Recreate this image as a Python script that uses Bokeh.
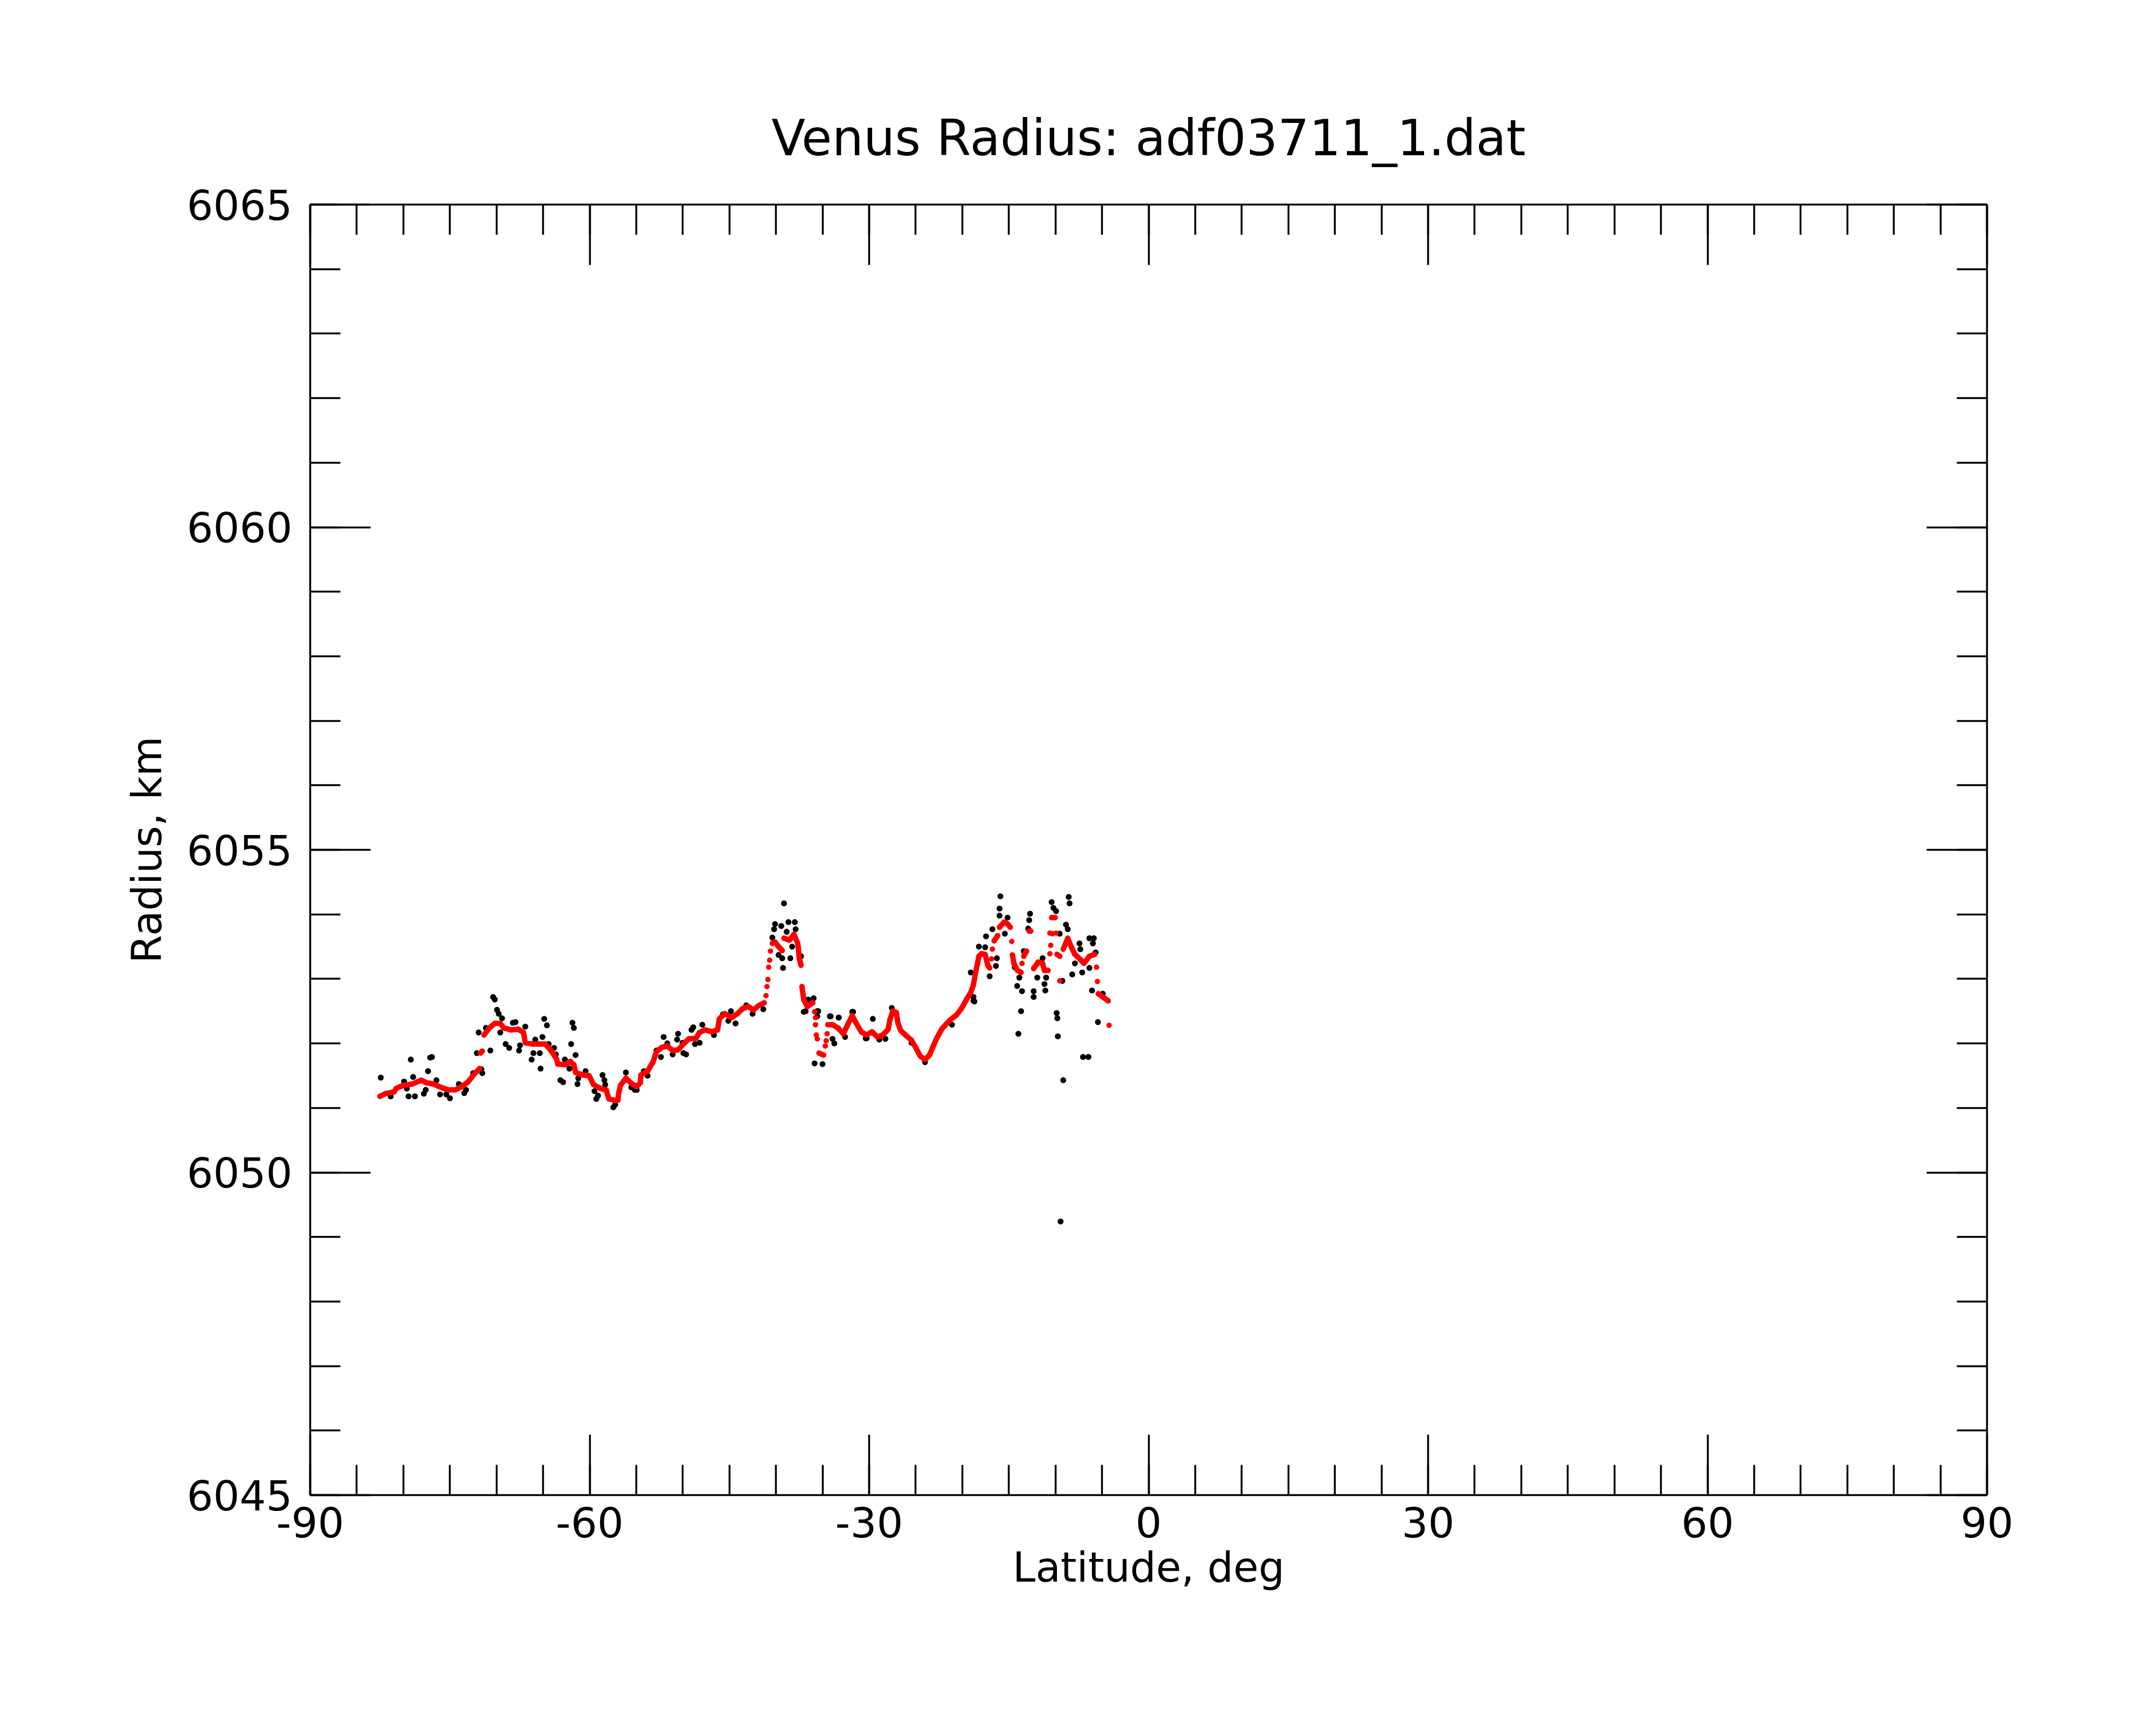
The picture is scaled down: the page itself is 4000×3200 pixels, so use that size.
import numpy as np
from bokeh.plotting import figure
from bokeh.models import Range1d, LinearAxis, SingleIntervalTicker, CustomJSTickFormatter
from bokeh.embed import file_html
from bokeh.resources import INLINE

NaN = float("nan")

# raw radius samples (black)
raw_lat = [
    -82.42, -81.36, -79.92, -79.63, -79.44, -79.20, -78.95, -78.76, -77.80, -77.60,
    -77.35, -77.12, -76.93, -76.45, -76.06, -75.39, -75.00, -74.04, -73.46, -73.27,
    -72.50, -72.11, -71.63, -71.53, -71.92, -71.14, -70.66, -70.37, -70.18, -69.95,
    -69.76, -69.41, -69.60, -69.02, -68.64, -68.25, -67.96, -67.58, -67.48, -66.91,
    -66.23, -66.04, -65.84, -65.36, -65.27, -65.07, -64.88, -64.59, -64.40, -63.82,
    -63.63, -63.14, -62.85, -62.66, -62.18, -61.99, -61.85, -61.70, -61.51, -61.31,
    -61.22, -60.44, -59.48, -59.29, -59.10, -58.62, -58.42, -58.33, -57.46, -57.26,
    -56.11, -55.53, -55.15,
    -54.95, -54.18, -53.79, -52.83, -52.35, -52.06, -51.67, -51.09, -50.51, -50.61,
    -50.03, -49.94, -49.65, -49.07, -48.88, -48.69, -48.20, -47.91, -46.66, -45.69,
    -45.11, -44.83, -44.34, -43.19, -42.51, -41.36,
    -39.14, -40.10, -39.43, -40.20, -38.66, -37.98, -37.89, -38.85, -40.39, -38.27,
    -39.72, -39.33, -38.46, -37.31, -39.24,
    -37.02, -36.54, -35.96, -35.57, -35.57, -35.86, -35.00, -36.82, -35.47,
    -34.22, -34.13, -33.93, -33.74, -33.27, -33.26, -32.58, -31.72, -31.81, -30.37,
    -29.60, -28.92, -28.25, -30.27, -27.57, -25.45, -24.00, -21.11,
    -19.09, -18.80, -18.70, -18.80, -18.22, -17.55, -17.45, -17.06, -16.77, -16.29,
    -16.39, -15.91, -16.00, -16.00, -15.14, -15.43, -14.36, -13.88, -14.11, -13.59,
    -13.69, -13.98, -12.73, -12.82, -12.92, -13.40, -11.38, -11.95, -12.34, -12.34,
    -11.18, -11.09, -11.00, -10.41, -10.22, -9.93, -9.54, -9.26, -9.87, -9.80,
    -9.74, -9.16, -8.58, -8.49, -8.87, -8.68, -8.20, -7.91, -7.42, -7.33,
    -7.13, -6.36, -6.36, -5.88, -5.98, -5.69, -6.07, -5.44, -7.04, -6.46,
    -4.92, -9.45,
]
raw_radius = [
    6051.47, 6051.18, 6051.41, 6051.30, 6051.18, 6051.75, 6051.48, 6051.18, 6051.22, 6051.28,
    6051.57, 6051.78, 6051.79, 6051.43, 6051.21, 6051.21, 6051.15, 6051.37, 6051.23, 6051.28,
    6051.54, 6051.85, 6051.60, 6051.54, 6052.17, 6052.24, 6051.89, 6052.72, 6052.68, 6052.52,
    6052.46, 6052.39, 6052.17, 6051.99, 6051.93, 6052.32, 6052.33, 6051.89, 6051.97, 6052.26,
    6051.75, 6051.85, 6052.06, 6051.85, 6051.61, 6052.10, 6052.38, 6052.28, 6051.99, 6051.93,
    6051.83, 6051.43, 6051.40, 6051.75, 6051.61, 6051.99, 6052.32, 6052.24, 6051.82, 6051.37,
    6051.46, 6051.57, 6051.26, 6051.14, 6051.19, 6051.51, 6051.43, 6051.36, 6051.01, 6051.05,
    6051.55, 6051.32, 6051.28,
    6051.28, 6051.57, 6051.50, 6051.89, 6051.79, 6052.10, 6052.00, 6051.83, 6052.15, 6052.06,
    6052.01, 6051.85, 6051.83, 6052.21, 6052.25, 6051.99, 6052.01, 6052.29, 6052.13, 6052.45,
    6052.35, 6052.50, 6052.31, 6052.59, 6052.46, 6052.53,
    6054.17, 6053.85, 6053.82, 6053.77, 6053.88, 6053.88, 6053.77, 6053.73, 6053.64, 6053.50,
    6053.37, 6053.32, 6053.32, 6053.35, 6053.17,
    6052.49, 6052.68, 6052.70, 6052.50, 6052.42, 6051.69, 6051.68, 6052.50, 6052.50,
    6052.42, 6052.42, 6052.07, 6052.00, 6052.40, 6052.40, 6052.10, 6052.49, 6052.49, 6052.08,
    6052.38, 6052.06, 6052.07, 6052.08, 6052.55, 6052.01, 6051.71, 6052.29,
    6053.10, 6052.66, 6052.65, 6052.72, 6053.50, 6053.49, 6053.66, 6053.04, 6053.77, 6053.32,
    6053.20, 6054.28, 6054.09, 6053.98, 6053.95, 6053.70, 6053.18, 6053.02, 6052.89, 6052.81,
    6052.50, 6052.15, 6054.01, 6053.91, 6053.78, 6053.43, 6053.32, 6053.02, 6052.81, 6052.72,
    6052.92, 6052.82, 6053.02, 6054.19, 6054.10, 6054.05, 6053.70, 6052.97, 6052.47, 6052.39,
    6052.11, 6051.43, 6054.27, 6054.17, 6053.84, 6053.77, 6053.07, 6053.24, 6053.55, 6053.46,
    6053.10, 6053.17, 6053.63, 6053.63, 6053.55, 6053.41, 6052.82, 6052.33, 6051.79, 6051.79,
    6052.77, 6049.24,
]

# smoothed radius (red); NaN separates runs
fit_lat = [
    -82.52, -81.94, -80.98, -80.79, -80.01, -79.05, -78.09, -77.51, -76.74, -76.16,
    -75.19, -74.42, -73.84, -73.07, -72.30, -71.82, NaN,
    -71.72, -71.53, NaN,
    -71.34, -70.76, -70.18, -69.60, -69.22, -68.45, -67.68, -67.10, -66.91, -66.13,
    -65.36, -64.78, -64.20, -63.82, -63.53, -63.43, -62.66, -62.08, -61.70, -61.51,
    -60.73, -60.06, -59.58, -58.81, -58.23, -57.94, -57.36, -56.97, -56.88, -56.69,
    -56.11, -55.53, -54.95, -54.56, -54.50, -53.79, -53.21, -52.83, -52.25, -51.67,
    -51.09, -50.51, -49.94, -49.36, -48.59, -48.20, -47.62, -46.85, -46.27, -46.08,
    -45.50, -44.73, -44.15, -43.57, -42.99, -42.41, -41.83, -41.26, NaN,
    -41.07, NaN, -40.97, NaN, -40.87, NaN, -40.78, NaN, -40.68, NaN, -40.59, NaN,
    -40.39, -40.10, -39.72, -39.33, NaN,
    -39.14, -38.56, -38.08, -37.69, -37.60, -37.50, -37.31, NaN,
    -37.21, -37.02, -36.63, -36.05, NaN,
    -35.86, NaN, -35.76, NaN, -35.76, NaN, -35.67, NaN, -35.57, NaN,
    -35.38, -34.90, NaN, -34.71, NaN, -34.61, NaN, -34.51, NaN,
    -34.42, -33.93, -33.35, -32.77, -32.20, -31.81, -31.42, -30.85, -30.27, -29.69,
    -29.11, -28.54, -27.96, -27.76, -27.47, -27.09, -26.90, -26.61, -26.03, -25.45,
    -25.06, -24.49, -24.00, -23.52, -23.14, -22.75, -22.17, -21.40, -20.63, -20.05,
    -19.47, -19.09, -18.80, -18.61, -18.41, -18.22, -17.93, -17.55, -17.26, -17.06, NaN,
    -16.87, NaN, -16.77, NaN,
    -16.58, -16.20, NaN,
    -16.00, -15.52, -15.14, -14.85, NaN,
    -14.69, NaN,
    -14.62, -14.46, -14.08, -13.69, NaN,
    -13.59, NaN,
    -13.40, -13.11, NaN,
    -12.82, -12.65, NaN,
    -12.34, -11.86, -11.38, -11.18, -10.80, NaN,
    -10.60, NaN, -10.51, NaN, -10.32, NaN,
    -10.41, -10.03, NaN,
    -10.60, NaN, -9.93, NaN,
    -9.83, -9.54, NaN,
    -9.54, NaN,
    -9.16, -8.68, -8.29, -7.91, -7.33, -6.94, -6.36, -5.78, NaN,
    -5.59, NaN, -5.50, NaN,
    -5.40, -4.82, -4.34, NaN,
    -4.24,
]
fit_radius = [
    6051.18, 6051.22, 6051.25, 6051.30, 6051.35, 6051.37, 6051.43, 6051.39, 6051.37, 6051.33,
    6051.28, 6051.28, 6051.32, 6051.40, 6051.54, 6051.61, NaN,
    6051.85, 6051.88, NaN,
    6052.13, 6052.24, 6052.31, 6052.31, 6052.24, 6052.21, 6052.22, 6052.17, 6052.01, 6051.99,
    6051.99, 6051.99, 6051.90, 6051.82, 6051.75, 6051.68, 6051.67, 6051.72, 6051.67, 6051.55,
    6051.51, 6051.50, 6051.36, 6051.30, 6051.28, 6051.14, 6051.12, 6051.12, 6051.23, 6051.35,
    6051.46, 6051.38, 6051.33, 6051.39, 6051.51, 6051.57, 6051.71, 6051.87, 6051.94, 6051.96,
    6051.89, 6051.90, 6051.99, 6052.07, 6052.08, 6052.17, 6052.21, 6052.18, 6052.21, 6052.38,
    6052.46, 6052.40, 6052.46, 6052.54, 6052.57, 6052.52, 6052.59, 6052.63, NaN,
    6052.74, NaN, 6052.88, NaN, 6052.99, NaN, 6053.18, NaN, 6053.29, NaN, 6053.43, NaN,
    6053.55, 6053.57, 6053.50, 6053.44, NaN,
    6053.63, 6053.60, 6053.69, 6053.56, 6053.48, 6053.32, 6053.21, NaN,
    6052.88, 6052.68, 6052.57, 6052.63, NaN,
    6052.49, NaN, 6052.40, NaN, 6052.29, NaN, 6052.13, NaN, 6052.07, NaN,
    6051.85, 6051.82, NaN, 6051.96, NaN, 6052.04, NaN, 6052.15, NaN,
    6052.29, 6052.29, 6052.24, 6052.15, 6052.32, 6052.43, 6052.32, 6052.18, 6052.13, 6052.18,
    6052.10, 6052.13, 6052.22, 6052.37, 6052.50, 6052.48, 6052.31, 6052.20, 6052.12, 6052.05,
    6051.95, 6051.80, 6051.75, 6051.82, 6051.95, 6052.08, 6052.23, 6052.35, 6052.44, 6052.55,
    6052.70, 6052.79, 6052.91, 6053.07, 6053.21, 6053.35, 6053.39, 6053.38, 6053.21, 6053.17, NaN,
    6053.31, NaN, 6053.46, NaN,
    6053.59, 6053.67, NaN,
    6053.80, 6053.88, 6053.85, 6053.80, NaN,
    6053.58, NaN,
    6053.37, 6053.24, 6053.13, 6053.10, NaN,
    6053.24, NaN,
    6053.35, 6053.43, NaN,
    6053.74, 6053.74, NaN,
    6053.16, 6053.26, 6053.24, 6053.13, 6053.13, NaN,
    6053.39, NaN, 6053.52, NaN, 6053.70, NaN,
    6053.95, 6053.95, NaN,
    6053.71, NaN, 6053.71, NaN,
    6053.38, 6053.35, NaN,
    6052.97, NaN,
    6053.46, 6053.63, 6053.49, 6053.38, 6053.30, 6053.24, 6053.35, 6053.38, NaN,
    6053.18, NaN, 6052.96, NaN,
    6052.77, 6052.71, 6052.66, NaN,
    6052.28,
]

FONT = "DejaVu Sans"
TICK_FS = "77px"
LBL_FS = "76px"

p = figure(width=3984, height=3184,
           x_range=Range1d(-90, 90), y_range=Range1d(6045, 6065),
           output_backend="svg", toolbar_location=None,
           min_border_left=575, min_border_right=298,
           min_border_top=379, min_border_bottom=411,
           background_fill_color="white", border_fill_color="white")
p.outline_line_color = None
p.xgrid.visible = False
p.ygrid.visible = False

p.title.text = "Venus Radius: adf03711_1.dat"
p.title.align = "center"
p.title.text_font = FONT
p.title.text_font_size = "92px"
p.title.text_font_style = "normal"
p.title.text_color = "black"
p.title.standoff = 139

plain = CustomJSTickFormatter(code="return tick.toFixed(0)")
blank = CustomJSTickFormatter(code="return ''")


def style(ax, ticker):
    ax.ticker = ticker
    ax.axis_line_color = "black"
    ax.axis_line_width = 3.5
    ax.major_tick_line_color = "black"
    ax.minor_tick_line_color = "black"
    ax.major_tick_line_width = 3.5
    ax.minor_tick_line_width = 3.5
    ax.major_tick_in = 112
    ax.major_tick_out = 0
    ax.minor_tick_in = 56
    ax.minor_tick_out = 0
    ax.major_label_text_font = FONT
    ax.major_label_text_font_size = TICK_FS
    ax.major_label_text_color = "black"
    ax.axis_label_text_font = FONT
    ax.axis_label_text_font_size = LBL_FS
    ax.axis_label_text_font_style = "normal"
    ax.axis_label_text_color = "black"


style(p.xaxis[0], SingleIntervalTicker(interval=30, num_minor_ticks=6))
style(p.yaxis[0], SingleIntervalTicker(interval=5, num_minor_ticks=5))
p.xaxis[0].formatter = plain
p.yaxis[0].formatter = plain
p.xaxis[0].axis_label = "Latitude, deg"
p.yaxis[0].axis_label = "Radius, km"
p.xaxis[0].major_label_standoff = 22
p.xaxis[0].axis_label_standoff = 8
p.yaxis[0].major_label_standoff = 33
p.yaxis[0].axis_label_standoff = 27

top = LinearAxis()
style(top, SingleIntervalTicker(interval=30, num_minor_ticks=6))
top.formatter = blank
top.major_label_standoff = 0
p.add_layout(top, "above")
right = LinearAxis()
style(right, SingleIntervalTicker(interval=5, num_minor_ticks=5))
right.formatter = blank
right.major_label_standoff = 0
p.add_layout(right, "right")

p.scatter(raw_lat, raw_radius, size=11, marker="circle", fill_color="black", line_color=None)
p.line(fit_lat, fit_radius, line_color="red", line_width=10, line_cap="round", line_join="round")
p.scatter(fit_lat, fit_radius, size=10, marker="circle", fill_color="red", line_color=None)

open("out.html", "w").write(file_html(p, INLINE))
